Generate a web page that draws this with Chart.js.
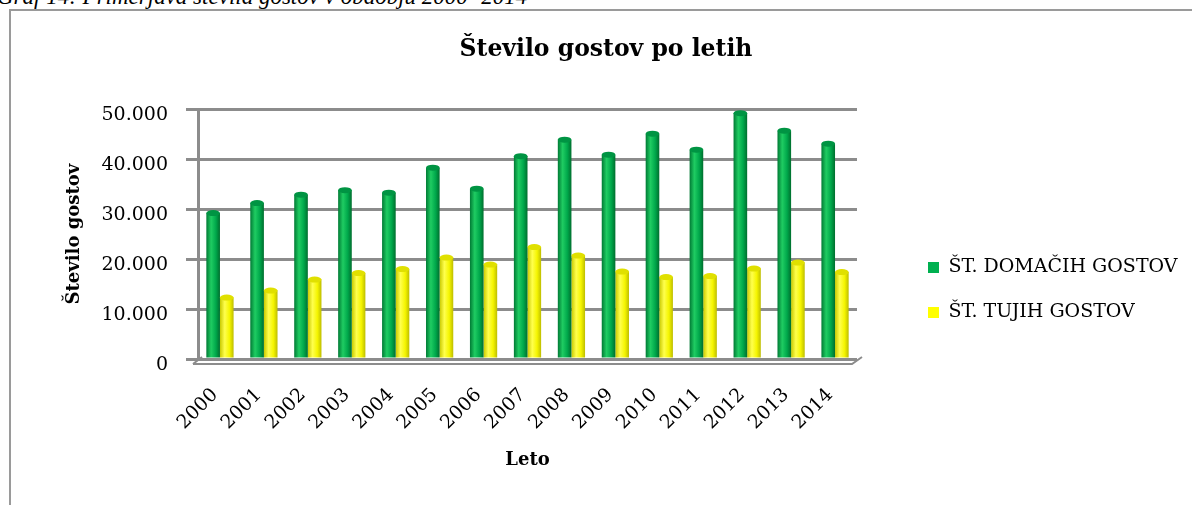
<!DOCTYPE html>
<html>
<head>
<meta charset="utf-8">
<title>Število gostov po letih</title>
<script src="https://cdn.jsdelivr.net/npm/chart.js@4.4.1/dist/chart.umd.min.js"></script>
<style>
    html, body { margin: 0; padding: 0; background: #fff; overflow: hidden; }
    body { width: 1192px; height: 505px; position: relative; }
    #caption { position: absolute; left: -3px; top: -16px; font: italic 23px "Liberation Serif", serif; white-space: nowrap; color: #000; }
    #frame { position: absolute; left: 9px; top: 9px; right: -10px; bottom: -10px; border-left: 2px solid #9a9a9a; border-top: 2px solid #9a9a9a; }
    #wrap { position: absolute; left: 0; top: 0; width: 1192px; height: 505px; }
</style>
</head>
<body>
<div id="caption">Graf 14: Primerjava števila gostov v obdobju 2000- 2014</div>
<div id="frame"></div>
<div id="wrap"><canvas id="myChart"></canvas></div>
<script>
// Data
const years = ['2000', '2001', '2002', '2003', '2004', '2005', '2006', '2007',
               '2008', '2009', '2010', '2011', '2012', '2013', '2014'];
const domesticGuests = [29200, 31200, 32900, 33800, 33300, 38300, 34100, 40600,
                        43900, 40900, 45100, 41900, 49200, 45700, 43100];
const foreignGuests = [12300, 13700, 15900, 17200, 18000, 20300, 18900, 22400,
                       20700, 17500, 16400, 16600, 18100, 19300, 17400];
const yTickLabels = ['0', '10.000', '20.000', '30.000', '40.000', '50.000'];

const serif = '"DejaVu Serif", serif';
const gridGrey = '#8c8c8c';

// cylinder look: horizontal gradient on every bar + a small top cap
const cylinders = {
    id: 'cylinders',
    beforeDatasetsDraw(chart) {
        const ctx = chart.ctx;
        chart.data.datasets.forEach((ds, i) => {
            chart.getDatasetMeta(i).data.forEach(bar => {
                const half = bar.width / 2;
                const g = ctx.createLinearGradient(bar.x - half, 0, bar.x + half, 0);
                g.addColorStop(0, ds.shade[0]);
                g.addColorStop(0.35, ds.shade[1]);
                g.addColorStop(0.7, ds.shade[2]);
                g.addColorStop(1, ds.shade[3]);
                bar.options = Object.assign({}, bar.options, { backgroundColor: g });
            });
        });
    },
    afterDatasetsDraw(chart) {
        const ctx = chart.ctx;
        chart.data.datasets.forEach((ds, i) => {
            chart.getDatasetMeta(i).data.forEach(bar => {
                ctx.save();
                ctx.beginPath();
                ctx.ellipse(bar.x, bar.y, bar.width / 2, 3, 0, 0, Math.PI * 2);
                ctx.fillStyle = ds.cap;
                ctx.fill();
                ctx.restore();
            });
        });
    }
};

// thin 3D floor: front edge + side diagonals under the plot
const floor3d = {
    id: 'floor3d',
    beforeDatasetsDraw(chart) {
        const { ctx, chartArea: a, scales: { y } } = chart;
        const zero = y.getPixelForValue(0);
        ctx.save();
        ctx.strokeStyle = gridGrey;
        ctx.lineWidth = 2;
        ctx.beginPath();
        ctx.moveTo(a.left - 5, zero + 5);
        ctx.lineTo(a.right - 5, zero + 5);
        ctx.lineTo(a.right + 5, zero - 2);
        ctx.moveTo(a.left - 5, zero + 5);
        ctx.lineTo(a.left + 4, zero - 2);
        ctx.stroke();
        ctx.restore();
    }
};

// put the legend on the right, beside the plot, like the original
const legendPlace = {
    id: 'legendPlace',
    afterLayout(chart) {
        const l = chart.legend;
        const w = l.width, h = l.height;
        l.left = 902; l.right = 902 + w;
        l.top = 232; l.bottom = 232 + h;
    }
};

new Chart(document.getElementById('myChart'), {
    type: 'bar',
    data: {
        labels: years,
        datasets: [{
            label: 'ŠT. DOMAČIH GOSTOV',
            data: domesticGuests,
            backgroundColor: '#00b050',
            borderWidth: 0,
            shade: ['#007a34', '#1fcc62', '#00a84b', '#006e2e'],
            cap: '#009443'
        }, {
            label: 'ŠT. TUJIH GOSTOV',
            data: foreignGuests,
            backgroundColor: '#ffff00',
            borderWidth: 0,
            shade: ['#c9c900', '#ffff4d', '#f5f500', '#bdbd00'],
            cap: '#e0e000'
        }]
    },
    options: {
        responsive: true,
        maintainAspectRatio: false,
        animation: false,
        layout: { padding: { left: 20, right: 0, top: 0, bottom: 0 } },
        datasets: {
            bar: { barPercentage: 1.0, categoryPercentage: 0.62 }
        },
        scales: {
            y: {
                min: 0,
                max: 50000,
                afterFit: s => { s.width = 178; },
                ticks: {
                    stepSize: 10000,
                    color: '#000',
                    padding: 18,
                    labelOffset: 6,
                    font: { family: serif, size: 19 },
                    callback: (v, i) => yTickLabels[i]
                },
                grid: { color: gridGrey, lineWidth: 3, tickLength: 12, tickColor: gridGrey },
                border: { display: true, color: gridGrey, width: 3 },
                title: {
                    display: true,
                    text: 'Število gostov',
                    color: '#000',
                    padding: { top: 44, bottom: 0 },
                    font: { family: serif, size: 18, weight: 'bold' }
                }
            },
            // empty right-hand space where the legend sits
            legendSpace: {
                position: 'right',
                type: 'linear',
                afterFit: s => { s.width = 335; },
                ticks: { display: false },
                grid: { display: false, drawTicks: false },
                border: { display: false }
            },
            x: {
                afterFit: s => { s.height = 146; },
                ticks: {
                    color: '#000',
                    minRotation: 45,
                    maxRotation: 45,
                    padding: 25,
                    labelOffset: -5,
                    font: { family: serif, size: 19 }
                },
                grid: { display: false, drawTicks: false },
                border: { display: false },
                title: {
                    display: true,
                    text: 'Leto',
                    color: '#000',
                    padding: { top: 0, bottom: 34 },
                    font: { family: serif, size: 18, weight: 'bold' }
                }
            }
        },
        plugins: {
            title: {
                display: true,
                text: 'Število gostov po letih',
                color: '#000',
                padding: { top: 36, bottom: 45 },
                font: { family: serif, size: 23.5, weight: 'bold' }
            },
            legend: {
                position: 'chartArea',
                align: 'start',
                labels: {
                    boxWidth: 11,
                    boxHeight: 11,
                    padding: 26,
                    color: '#000',
                    font: { family: serif, size: 19 }
                }
            },
            tooltip: { enabled: false }
        }
    },
    plugins: [cylinders, floor3d, legendPlace]
});
</script>
</body>
</html>
